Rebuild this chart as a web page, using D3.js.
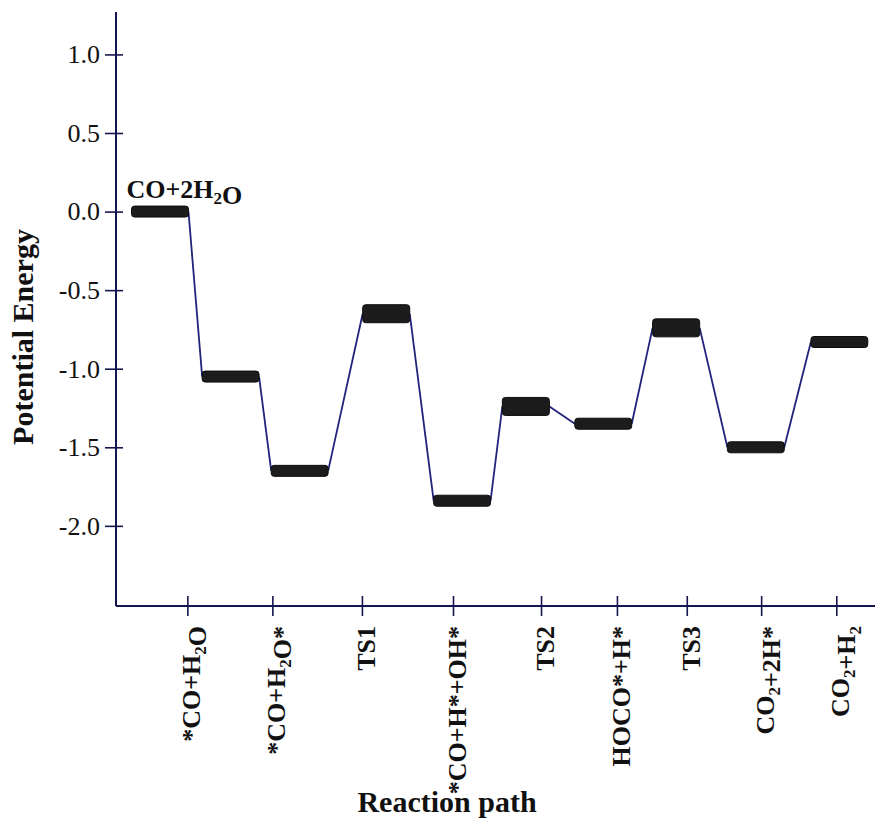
<!DOCTYPE html>
<html>
<head>
<meta charset="utf-8">
<title>Potential energy diagram</title>
<script src="https://cdn.jsdelivr.net/npm/d3@7"></script>
<style>
body { margin: 0; background: #fff; }
text { font-family: "Liberation Serif", "Times New Roman", serif; fill: #111; }
</style>
</head>
<body>
<div id="chart"></div>
<script>
// states along the reaction path ("_2" marks a subscript 2)
var stateNames = ["CO+2H_2O", "*CO+H_2O", "*CO+H_2O*", "TS1", "*CO+H*+OH*",
                  "TS2", "HOCO*+H*", "TS3", "CO_2+2H*", "CO_2+H_2"];
// energy of each state
var energies = [0.00, -1.05, -1.65, -0.65, -1.84, -1.24, -1.35, -0.74, -1.50, -0.83];
// where each level sits along the reaction coordinate
var pathPos = [0.58, 1.51, 2.42, 3.56, 4.56, 5.40, 6.42, 7.38, 8.43, 9.53];
// tick marks on the reaction-path axis and their labels
var tickPos = [0.94, 2.06, 3.24, 4.44, 5.60, 6.60, 7.52, 8.50, 9.49];
var tickNames = stateNames.slice(1);
var yTicks = [1.0, 0.5, 0.0, -0.5, -1.0, -1.5, -2.0];

var W = 875, H = 827;
var axisCol = "#15164f", lineCol = "#22237a", barCol = "#1c1c1c";

var svg = d3.select("#chart").append("svg")
    .attr("width", W).attr("height", H);

var x = d3.scaleLinear().domain([0, 10]).range([116, 875]);
var y = d3.scaleLinear().domain([-2.51, 1.27]).range([606, 12]);

// write a label with subscripts into a text element
function richText(sel, s, subSize, shift) {
  s.split(/(_\d)/).forEach(function (part) {
    if (part === "") return;
    if (part[0] === "_") {
      sel.append("tspan").attr("font-size", subSize).attr("dy", shift).text(part.slice(1));
      sel.append("tspan").attr("dy", -shift).text("");
    } else {
      sel.append("tspan").text(part);
    }
  });
}

// y axis
var yAxis = d3.axisLeft(y).tickValues(yTicks)
    .tickFormat(function (d) { return d.toFixed(1); })
    .tickSize(11).tickPadding(5);
var gy = svg.append("g").attr("transform", "translate(" + x(0) + ",0)").call(yAxis);
gy.select(".domain").remove();
gy.selectAll(".tick line").attr("x1", 7).attr("stroke", axisCol).attr("stroke-width", 1.6);
gy.selectAll(".tick text")
    .style("font-family", '"Liberation Serif", "Times New Roman", serif')
    .style("font-size", "26px").attr("fill", "#222");
svg.append("line")
    .attr("x1", x(0)).attr("x2", x(0)).attr("y1", y.range()[1]).attr("y2", y.range()[0])
    .attr("stroke", axisCol).attr("stroke-width", 2);

// x axis
var xAxis = d3.axisBottom(x).tickValues(tickPos).tickFormat("").tickSize(10);
var gx = svg.append("g").attr("transform", "translate(0," + y(-2.51) + ")").call(xAxis);
gx.select(".domain").remove();
gx.selectAll(".tick line").attr("y1", -10).attr("stroke", axisCol).attr("stroke-width", 1.6);
svg.append("line")
    .attr("x1", x(0)).attr("x2", x(10)).attr("y1", y(-2.51)).attr("y2", y(-2.51))
    .attr("stroke", axisCol).attr("stroke-width", 2);

tickPos.forEach(function (p, i) {
  var t = svg.append("text")
      .attr("transform", "translate(" + x(p) + "," + (y(-2.51) + 20) + ") rotate(-90)")
      .attr("text-anchor", "end").attr("dy", "0.5em")
      .attr("font-size", 26).attr("font-weight", "bold");
  richText(t, tickNames[i], 17, 6);
});

// connectors between levels
var halfW = function (i) { return stateNames[i].indexOf("TS") === 0 ? 0.31 : 0.375; };
var segs = d3.range(energies.length - 1).map(function (i) {
  return [[x(pathPos[i] + halfW(i)), y(energies[i])],
          [x(pathPos[i + 1] - halfW(i + 1)), y(energies[i + 1])]];
});
svg.selectAll(".conn").data(segs).enter().append("path")
    .attr("d", d3.line())
    .attr("fill", "none").attr("stroke", lineCol).attr("stroke-width", 1.8);

// energy levels
svg.selectAll(".lvl").data(energies).enter().append("rect")
    .attr("x", function (d, i) { return x(pathPos[i] - halfW(i)); })
    .attr("width", function (d, i) { return x(pathPos[i] + halfW(i)) - x(pathPos[i] - halfW(i)); })
    .attr("y", function (d, i) { return y(d) - (halfW(i) < 0.35 ? 9 : 5.5); })
    .attr("height", function (d, i) { return halfW(i) < 0.35 ? 18 : 11; })
    .attr("rx", 3)
    .attr("fill", barCol).attr("stroke", "#0d0d0d").attr("stroke-width", 1);

// label on the starting level
var start = svg.append("text")
    .attr("x", x(pathPos[0] - halfW(0)) - 5).attr("y", y(energies[0]) - 14)
    .attr("font-size", 26).attr("font-weight", "bold");
richText(start, stateNames[0], 17, 6);

// axis titles
svg.append("text")
    .attr("transform", "translate(33,337) rotate(-90)")
    .attr("text-anchor", "middle")
    .attr("font-size", 30).attr("font-weight", "bold")
    .text("Potential Energy");
svg.append("text")
    .attr("x", 447).attr("y", 812)
    .attr("text-anchor", "middle")
    .attr("font-size", 30).attr("font-weight", "bold")
    .text("Reaction path");
</script>
</body>
</html>
